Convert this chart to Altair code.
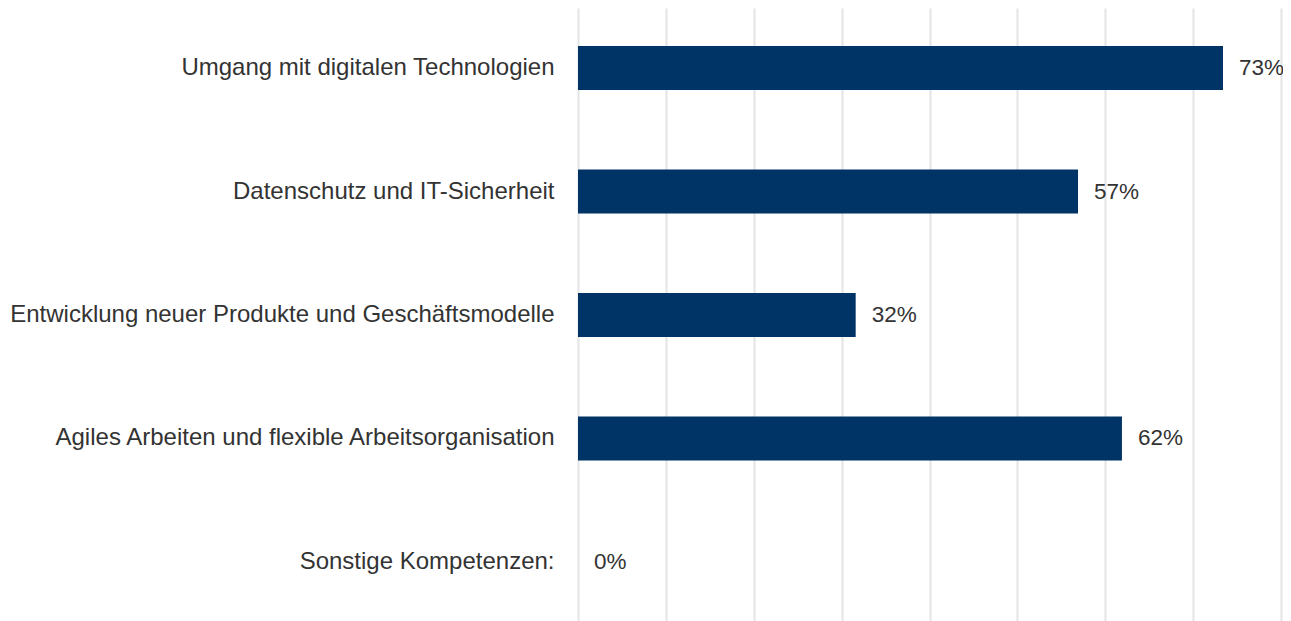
import altair as alt
import pandas as pd

categories = [
    "Umgang mit digitalen Technologien",
    "Datenschutz und IT-Sicherheit",
    "Entwicklung neuer Produkte und Geschäftsmodelle",
    "Agiles Arbeiten und flexible Arbeitsorganisation",
    "Sonstige Kompetenzen:",
]
shares = [0.734, 0.569, 0.316, 0.619, 0.0]
grid_ticks = [0.0, 0.1, 0.2, 0.3, 0.4, 0.5, 0.6, 0.7, 0.8]

df = pd.DataFrame({"cat": categories, "share": shares})

FONT = "Liberation Sans"

x_enc = alt.X(
    "share:Q",
    scale=alt.Scale(domain=[0, 0.8], nice=False, zero=True),
    axis=alt.Axis(
        values=grid_ticks, labels=False, ticks=False, domain=False, title=None,
        grid=True, gridColor="#e4e4e4", gridWidth=2,
    ),
)
y_enc = alt.Y(
    "cat:N",
    sort=categories,
    scale=alt.Scale(paddingInner=0.6437, paddingOuter=0.3077),
    axis=alt.Axis(
        title=None, ticks=False, domain=False, grid=False,
        labelFont=FONT, labelFontSize=24, labelColor="#333333",
        labelPadding=24, labelLimit=1000,
    ),
)

bars = alt.Chart(df).mark_bar(color="#003366").encode(x=x_enc, y=y_enc)
text = alt.Chart(df).mark_text(
    align="left", baseline="middle", dx=16, font=FONT, fontSize=22.5, color="#333333"
).encode(
    x=alt.X("share:Q"),
    y=alt.Y("cat:N", sort=categories),
    text=alt.Text("share:Q", format=".0%"),
)

chart = alt.layer(bars, text).properties(
    width=703, height=614,
    autosize=alt.AutoSizeParams(type="none"),
    padding={"left": 570, "top": 0, "right": 2, "bottom": 0},
).configure_view(stroke=None)

chart.save("out.html", embed_options={"renderer": "svg", "actions": False})
